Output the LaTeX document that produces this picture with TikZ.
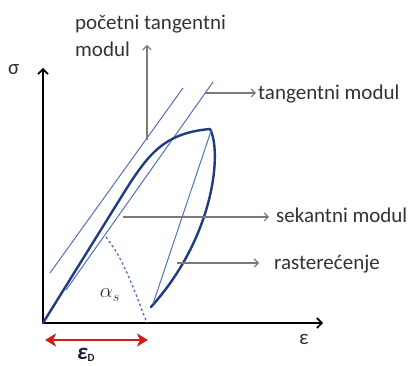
\documentclass[tikz,border=0pt]{standalone}
\usepackage{fontspec}
\setmainfont{Carlito}
\usetikzlibrary{arrows.meta}
\definecolor{curvec}{HTML}{1F3C82}
\definecolor{thinc}{HTML}{5272B2}
\definecolor{lblc}{HTML}{333333}
\definecolor{pointc}{HTML}{7A7A7A}
\definecolor{redc}{HTML}{D11A1A}
\definecolor{epsc}{HTML}{1A1F3D}
\tikzset{
  lbl/.style={inner sep=0pt, anchor=base west, text=lblc, font=\fontsize{21}{25}\selectfont},
  axis/.style={line width=2pt, black, -{Straight Barb[length=5pt,width=10pt,line width=1.6pt]}},
  pointer/.style={line width=1.4pt, pointc, -{Straight Barb[length=4pt,width=8pt,line width=1.2pt]}},
  thick curve/.style={line width=2.4pt, curvec, line cap=round, line join=round},
  thin line/.style={line width=1pt, thinc},
  red arrow/.style={redc, line width=2.6pt, {Stealth[length=11pt,width=13pt,inset=3pt]}-{Stealth[length=11pt,width=13pt,inset=3pt]}},
}
\begin{document}
\begin{tikzpicture}[x=1pt,y=1pt]
\useasboundingbox (0,0) rectangle (412,366);
\fill[white] (0,0) rectangle (412,366);
% axes
\coordinate (O) at (43,43);
\coordinate (ytip) at (43,298);
\coordinate (xtip) at (323,43);
\draw[axis] (O) -- (ytip);
\draw[axis] (O) -- (xtip);
\node[lbl] (sig) at (8,291) {σ};
\node[lbl] (eps) at (299,21) {ε};
% tangent lines
\coordinate (it1) at (50,93);
\coordinate (it2) at (183,278);
\draw[thin line] (it1) -- (it2);
\coordinate (tg1) at (66,76);
\coordinate (tg2) at (213,284);
\draw[thin line] (tg1) -- (tg2);
% loading / unloading
\coordinate (peak) at (210,237);
\coordinate (E) at (151,59);
\coordinate (bend) at (125,175);
\draw[thick curve] (O) -- (bend) .. controls (149,213) and (165,233) .. (peak);
\draw[thick curve] (peak) .. controls (222,215) and (215,130) .. (E);
\coordinate (c1) at (153,62);
\coordinate (c2) at (211,235);
\draw[thin line] (c1) -- (c2);
% angle arc
\draw[thinc, line width=1.3pt, dash pattern=on 2.5pt off 2.5pt] plot[smooth] coordinates {(106,129) (117,113) (127,93) (137,69) (145,48) (147,43)};
\node[inner sep=0pt, text=lblc] (alpha) at (110,71) {\fontsize{21}{24}\selectfont$\alpha_{s}$};
% pointers
\coordinate (p1s) at (147,226);
\coordinate (p1e) at (147,321);
\draw[pointer] (p1s) -- (p1e);
\node[lbl] (ptm1) at (75,336) {početni tangentni};
\node[lbl] (ptm2) at (75,309) {modul};
\coordinate (p2s) at (205,273);
\coordinate (p2e) at (256,273);
\draw[pointer] (p2s) -- (p2e);
\node[lbl] (tm) at (258,266) {tangentni modul};
\coordinate (p3s) at (123,149);
\coordinate (p3e) at (269,149);
\draw[pointer] (p3s) -- (p3e);
\node[lbl] (sm) at (276,143) {sekantni modul};
\coordinate (p4s) at (177,103);
\coordinate (p4e) at (259,103);
\draw[pointer] (p4s) -- (p4e);
\node[lbl] (rs) at (274,96) {rasterećenje};
% red arrow
\coordinate (r1) at (45,26);
\coordinate (r2) at (148,26);
\draw[red arrow] (r1) -- (r2);
\node[inner sep=0pt, anchor=base west, text=epsc, font=\fontsize{23}{25}\selectfont\bfseries\itshape] (epsd) at (77,6) {ε\raisebox{-2pt}{\fontsize{11}{12}\selectfont\upshape D}};
\end{tikzpicture}
\end{document}
